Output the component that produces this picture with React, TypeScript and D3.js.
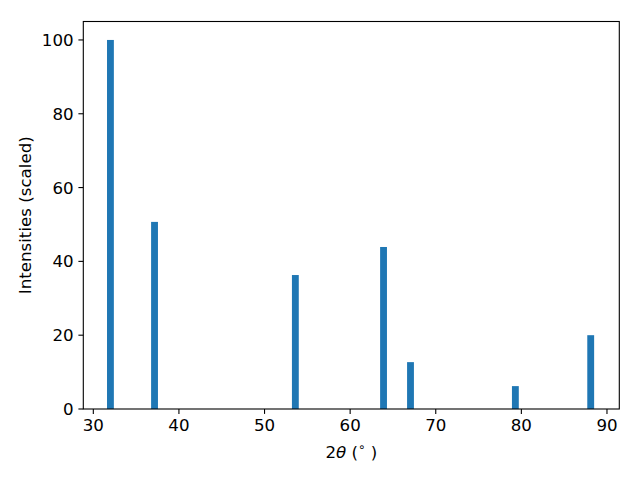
import * as d3 from 'd3'

const angles = [32.0, 37.15, 53.6, 63.9, 67.05, 79.3, 88.1]
const intensities = [100, 50.7, 36.3, 43.9, 12.7, 6.2, 20.0]
const xTicks = [30, 40, 50, 60, 70, 80, 90]
const yTicks = [0, 20, 40, 60, 80, 100]
const barWidth = 0.8

const W = 640
const H = 480
const left = 83.3
const right = 619.3
const top = 21.5
const bottom = 409
const fs = 16.67
const font = '"DejaVu Sans", sans-serif'

export default function App() {
  const x = d3.scaleLinear().domain([28.83, 91.44]).range([left, right])
  const y = d3.scaleLinear().domain([0, 105]).range([bottom, top])

  return (
    <svg
      width={W}
      height={H}
      style={{ position: 'absolute', left: 0, top: 0, background: '#fff' }}
      fontFamily={font}
    >
      <rect width={W} height={H} fill="#fff" />

      {angles.map((a, i) => (
        <rect
          key={i}
          x={x(a - barWidth / 2)}
          y={y(intensities[i])}
          width={x(a + barWidth / 2) - x(a - barWidth / 2)}
          height={y(0) - y(intensities[i])}
          fill="#1f77b4"
        />
      ))}

      <rect x={left} y={top} width={right - left} height={bottom - top} fill="none" stroke="#000" strokeWidth={1.1} />

      {xTicks.map(t => (
        <g key={t} transform={`translate(${x(t)},${bottom})`}>
          <line y2={4.9} stroke="#000" strokeWidth={1.1} />
          <text y={9.7} dy="0.76em" textAnchor="middle" fontSize={fs} fill="#000">
            {t}
          </text>
        </g>
      ))}

      {yTicks.map(t => (
        <g key={t} transform={`translate(${left},${y(t)})`}>
          <line x2={-4.9} stroke="#000" strokeWidth={1.1} />
          <text x={-9.7} dy="0.36em" textAnchor="end" fontSize={fs} fill="#000">
            {t}
          </text>
        </g>
      ))}

      <text x={(left + right) / 2} y={458} textAnchor="middle" fontSize={fs} fill="#000">
        2<tspan fontStyle="italic">θ</tspan> (
        <tspan fontSize={fs * 0.7} dy={-7}>∘</tspan>
        <tspan dy={7}> )</tspan>
      </text>

      <text
        transform={`translate(31,${(top + bottom) / 2}) rotate(-90)`}
        textAnchor="middle"
        fontSize={fs}
        fill="#000"
      >
        Intensities (scaled)
      </text>
    </svg>
  )
}
